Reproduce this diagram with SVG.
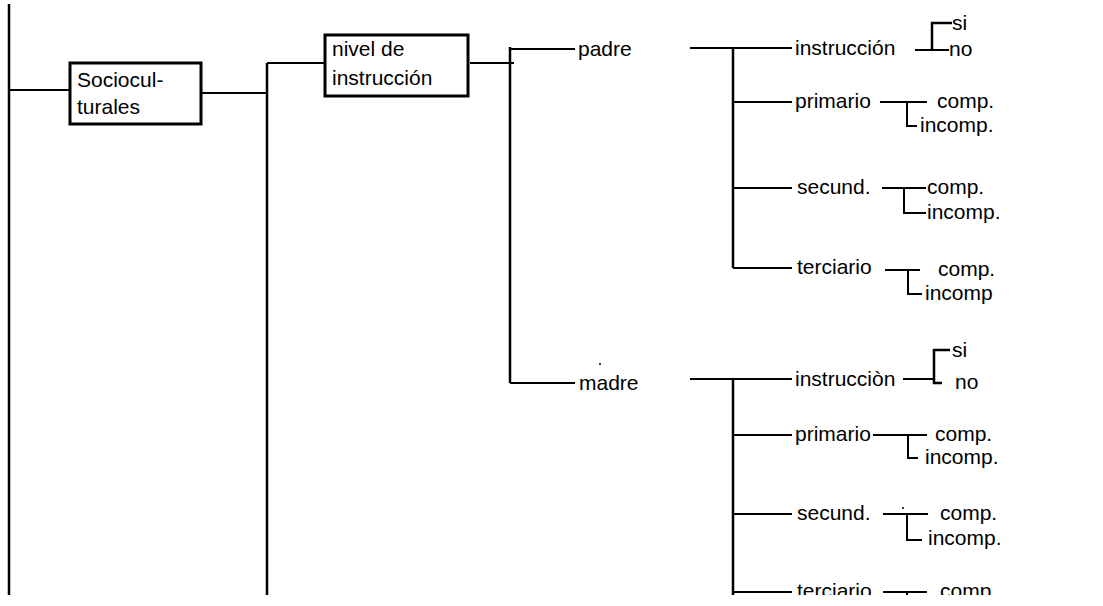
<svg xmlns="http://www.w3.org/2000/svg" width="1103" height="606" viewBox="0 0 1103 606">
<style>
text{font-family:"Liberation Sans",Arial,sans-serif;font-size:21px;fill:#000}
.c line,.c path{stroke:#000;stroke-width:2;fill:none}
.c .v{stroke-width:2.5}
.box{fill:#fff;stroke:#000;stroke-width:3}
</style>
<defs><clipPath id="cl"><rect x="0" y="0" width="1103" height="595"/></clipPath></defs>
<rect width="1103" height="606" fill="#fff"/>
<g clip-path="url(#cl)">
<g id="connectors" class="c">
<line class="v" x1="9" y1="4" x2="9" y2="595"/>
<line x1="9" y1="90" x2="70" y2="90"/>
<line x1="201" y1="93" x2="267" y2="93"/>
<line class="v" x1="267" y1="63" x2="267" y2="595"/>
<line x1="267" y1="63" x2="325" y2="63"/>
<line x1="470" y1="63" x2="514" y2="63"/>
<line class="v" x1="510" y1="47" x2="510" y2="383"/>
<line x1="510" y1="49" x2="575" y2="49"/>
<line x1="510" y1="383" x2="575" y2="383"/>
<!-- padre subtree -->
<line x1="690" y1="48" x2="792" y2="48"/>
<line class="v" x1="733" y1="48" x2="733" y2="268"/>
<line x1="733" y1="102" x2="792" y2="102"/>
<line x1="733" y1="188" x2="792" y2="188"/>
<line x1="733" y1="268" x2="792" y2="268"/>
<line x1="915" y1="50" x2="949" y2="50"/>
<path class="v" d="M952 23 H932 V50"/>
<line x1="880" y1="102" x2="927" y2="102"/>
<path d="M907 102 V126 H917"/>
<line x1="882" y1="188" x2="926" y2="188"/>
<path d="M904 188 V213 H926"/>
<line x1="885" y1="270" x2="920" y2="270"/>
<path d="M908 270 V294 H922"/>
<!-- madre subtree -->
<line x1="690" y1="379" x2="792" y2="379"/>
<line class="v" x1="733" y1="379" x2="733" y2="595"/>
<line x1="733" y1="435" x2="792" y2="435"/>
<line x1="733" y1="514" x2="792" y2="514"/>
<line x1="733" y1="592" x2="792" y2="592"/>
<line x1="903" y1="379" x2="934" y2="379"/>
<path class="v" d="M950 350 H934 V383 H942"/>
<line x1="873" y1="435" x2="927" y2="435"/>
<path d="M908 435 V458 H918"/>
<line x1="883" y1="514" x2="928" y2="514"/>
<path d="M907 514 V540 H922"/>
<line x1="883" y1="592" x2="927" y2="592"/>
<line x1="907" y1="592" x2="907" y2="600"/>
<circle cx="600" cy="364" r="1" fill="#000" stroke="none"/>
<circle cx="903" cy="508" r="1" fill="#000" stroke="none"/>
</g>
<g id="n-socio"><rect class="box" x="70" y="63" width="131" height="61"/><text x="77" y="87">Sociocul-</text><text x="77" y="114">turales</text></g>
<g id="n-nivel"><rect class="box" x="325" y="35" width="143" height="61"/><text x="332" y="56">nivel de</text><text x="332" y="85">instrucción</text></g>
<g id="n-padre"><text x="578" y="56">padre</text></g>
<g id="n-madre"><text x="579" y="390">madre</text></g>
<g id="n-p-instr"><text x="795" y="55">instrucción</text></g>
<g id="n-p-si"><text x="952" y="30">si</text></g>
<g id="n-p-no"><text x="949" y="56">no</text></g>
<g id="n-p-prim"><text x="795" y="108">primario</text></g>
<g id="n-p-prim-c"><text x="937" y="108">comp.</text></g>
<g id="n-p-prim-i"><text x="920" y="132">incomp.</text></g>
<g id="n-p-sec"><text x="797" y="194">secund.</text></g>
<g id="n-p-sec-c"><text x="927" y="194">comp.</text></g>
<g id="n-p-sec-i"><text x="927" y="219">incomp.</text></g>
<g id="n-p-ter"><text x="797" y="274">terciario</text></g>
<g id="n-p-ter-c"><text x="938" y="276">comp.</text></g>
<g id="n-p-ter-i"><text x="925" y="300">incomp</text></g>
<g id="n-m-instr"><text x="795" y="386">instrucciòn</text></g>
<g id="n-m-si"><text x="952" y="357">si</text></g>
<g id="n-m-no"><text x="955" y="389">no</text></g>
<g id="n-m-prim"><text x="795" y="441">primario</text></g>
<g id="n-m-prim-c"><text x="935" y="441">comp.</text></g>
<g id="n-m-prim-i"><text x="925" y="464">incomp.</text></g>
<g id="n-m-sec"><text x="797" y="520">secund.</text></g>
<g id="n-m-sec-c"><text x="940" y="520">comp.</text></g>
<g id="n-m-sec-i"><text x="928" y="545">incomp.</text></g>
<g id="n-m-ter"><text x="797" y="598">terciario</text></g>
<g id="n-m-ter-c"><text x="940" y="598">comp.</text></g>
</g>
</svg>
